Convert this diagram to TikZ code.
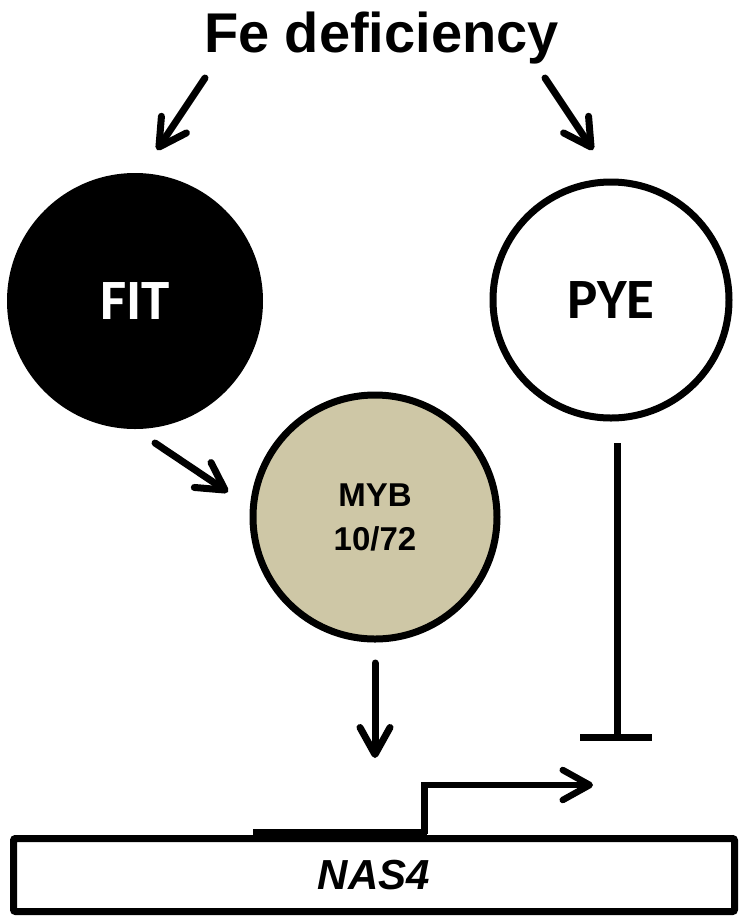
\documentclass[tikz,border=0pt]{standalone}
\usepackage{fontspec}
\setmainfont{Liberation Sans}
\newfontfamily\calib{Carlito}
\usetikzlibrary{arrows.meta}
\definecolor{mybfill}{RGB}{206,199,166}
\begin{document}
\begin{tikzpicture}[x=1pt,y=-1pt,
  conn/.style={line width=7pt, line cap=round,
    -{Straight Barb[length=27pt,width=30pt,round]}},
  inh/.style={line width=7pt},
  circ/.style={circle, inner sep=0pt, outer sep=0pt, align=center},
  big/.style={font=\bfseries\fontsize{56}{60}\selectfont},
  tfname/.style={font=\calib\bfseries\fontsize{57}{60}\selectfont}
]
\useasboundingbox (0,0) rectangle (747,922);
% title
\node[big, anchor=base, inner sep=0pt] (fe) at (381.5,52) {Fe deficiency};
% circles
\node[circ, fill=black, minimum size=256pt, tfname, text=white] (fit) at (135,301) {FIT};
\node[circ, draw=black, line width=7pt, fill=white, minimum size=236pt, tfname] (pye) at (611,300) {PYE};
\node[circ, draw=black, line width=7pt, fill=mybfill, minimum size=244pt,
      font=\bfseries\fontsize{33}{44}\selectfont] (myb) at (375,517) {MYB\\10/72};
% gene box
\fill (253,829) rectangle (427,839);
\node[draw=black, line width=7pt, rounded corners=2pt, inner sep=0pt,
      minimum width=721pt, minimum height=73pt,
      font=\bfseries\itshape\fontsize{42}{46}\selectfont] (nas) at (374,875) {NAS4};
% connector endpoints
\coordinate (feL) at (205,78);
\coordinate (fitIn) at (157,150);
\coordinate (feR) at (545,78);
\coordinate (pyeIn) at (593,150);
\coordinate (fitOut) at (155,443);
\coordinate (mybIn) at (228,492);
\coordinate (mybOut) at (375,663);
\coordinate (nasIn) at (375,758);
\coordinate (pyeOut) at (617,443);
\coordinate (pyeBar) at (617,737);
\coordinate (promStart) at (424.5,834);
\coordinate (promTip) at (593,785);
% connectors
\draw[conn] (feL) -- (fitIn);
\draw[conn] (feR) -- (pyeIn);
\draw[conn] (fitOut) -- (mybIn);
\draw[conn] (mybOut) -- (nasIn);
\draw[inh] (pyeOut) -- (pyeBar);
\draw[inh] ([xshift=-37pt]pyeBar) -- ([xshift=35pt]pyeBar);
\draw[line width=6.5pt, -{Straight Barb[length=27pt,width=30pt,round]}] (promStart) |- (promTip);
\end{tikzpicture}
\end{document}
